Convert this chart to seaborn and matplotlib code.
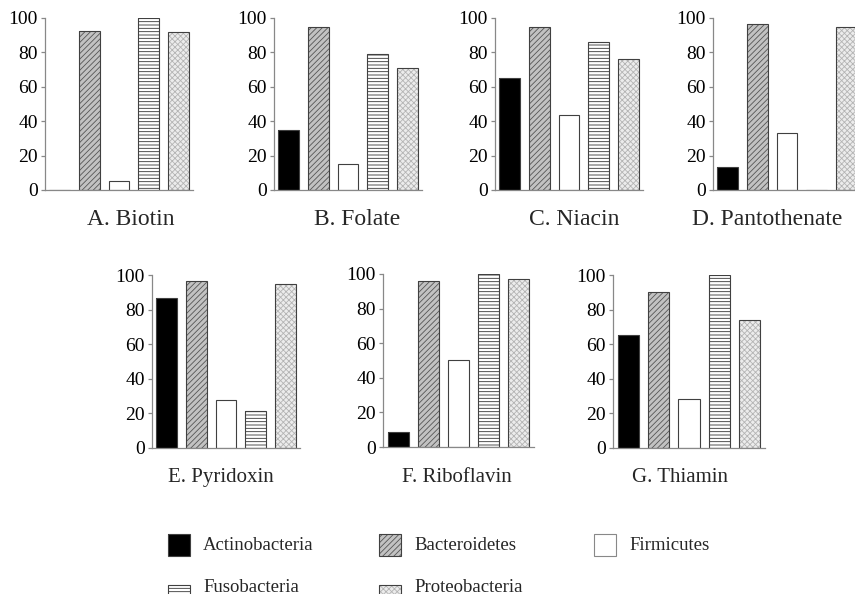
import numpy as np
import pandas as pd
import matplotlib
matplotlib.use("Agg")
import matplotlib.pyplot as plt
from matplotlib.patches import Rectangle
import seaborn as sns

# ---------------- data ----------------
phyla = ["Actinobacteria", "Bacteroidetes", "Firmicutes", "Fusobacteria", "Proteobacteria"]
panel_titles = ["A. Biotin", "B. Folate", "C. Niacin", "D. Pantothenate",
                "E. Pyridoxin", "F. Riboflavin", "G. Thiamin"]
biotin = [0.0, 92.7, 5.4, 100.0, 92.1]
folate = [34.9, 94.6, 15.3, 79.0, 71.0]
niacin = [65.4, 94.6, 43.6, 85.9, 76.4]
pantothenate = [13.1, 96.3, 32.9, 0.0, 94.6]
pyridoxin = [86.7, 96.3, 27.6, 21.4, 95.0]
riboflavin = [8.7, 96.2, 50.2, 100.0, 97.1]
thiamin = [65.3, 90.0, 28.5, 100.0, 73.8]
series = [biotin, folate, niacin, pantothenate, pyridoxin, riboflavin, thiamin]
yticks = [0, 20, 40, 60, 80, 100]

# ---------------- styles ----------------
face = {"Actinobacteria": "#000000", "Bacteroidetes": "#c2c2c2", "Firmicutes": "#ffffff",
        "Fusobacteria": "#ffffff", "Proteobacteria": "#ececec"}
hatch = {"Actinobacteria": "", "Bacteroidetes": "//////", "Firmicutes": "",
         "Fusobacteria": "-----", "Proteobacteria": "xxxxxx"}
hcol = {"Actinobacteria": "#000000", "Bacteroidetes": "#555555", "Firmicutes": "#ffffff",
        "Fusobacteria": "#333333", "Proteobacteria": "#b4b4b4"}
outline = "#404040"

sns.set_style("white")
plt.rcParams["font.family"] = ["Liberation Serif", "DejaVu Serif"]
plt.rcParams["hatch.linewidth"] = 0.6

W, H = 855, 594
fig = plt.figure(figsize=(W / 100, H / 100), dpi=100)

# axes rectangles in pixels: left, top, width, height
rects = [(45, 18, 148, 172), (274, 18, 148, 172), (495, 18, 148, 172), (713, 18, 148, 172),
         (152, 275, 148, 173), (383, 274, 151, 173), (613, 275, 152, 173)]
label_pos = [(131, 225), (357, 225), (574, 225), (767, 225),
             (221, 482), (457, 482), (680, 482)]
label_size = [17, 17, 17, 17, 15, 15, 15]

for (l, t, w, h), vals, title, (lx, ly), fs in zip(rects, series, panel_titles, label_pos, label_size):
    ax = fig.add_axes([l / W, 1 - (t + h) / H, w / W, h / H])
    df = pd.DataFrame({"phylum": phyla, "value": vals})
    sns.barplot(data=df, x="phylum", y="value", hue="phylum", order=phyla,
                hue_order=phyla, palette=face, width=0.7, saturation=1,
                linewidth=0, legend=False, ax=ax)
    for p in ax.patches:
        idx = int(round(p.get_x() + p.get_width() / 2))
        name = phyla[idx]
        p.set_edgecolor(hcol[name])
        p.set_hatch(hatch[name])
        p.set_linewidth(0)
    sns.barplot(data=df, x="phylum", y="value", order=phyla, color=outline,
                fill=False, width=0.7, linewidth=0.8, ax=ax)
    ax.set_xlim(-0.5, 4.5)
    ax.set_ylim(0, 100)
    ax.set_yticks(yticks)
    ax.set_yticklabels([str(v) for v in yticks], fontsize=14)
    ax.set_xticks([])
    ax.set_xlabel("")
    ax.set_ylabel("")
    for s in ["top", "right"]:
        ax.spines[s].set_visible(False)
    for s in ["left", "bottom"]:
        ax.spines[s].set_color("#888888")
        ax.spines[s].set_linewidth(0.9)
    ax.tick_params(axis="y", direction="out", length=3, width=0.9, color="#888888",
                   pad=2, left=True, labelcolor="#000000")
    fig.text(lx / W, 1 - ly / H, title, ha="center", va="baseline", fontsize=fs)

# ---------------- legend ----------------
leg_pos = {"Actinobacteria": (168, 534), "Bacteroidetes": (379, 534), "Firmicutes": (594, 534),
           "Fusobacteria": (168, 585), "Proteobacteria": (379, 585)}
text_y = {"Actinobacteria": 545, "Bacteroidetes": 545, "Firmicutes": 545,
          "Fusobacteria": 587, "Proteobacteria": 587}
for name in phyla:
    x, y = leg_pos[name]
    r = Rectangle((x / W, 1 - (y + 22) / H), 22 / W, 22 / H, transform=fig.transFigure,
                  facecolor=face[name], edgecolor=hcol[name], hatch=hatch[name], linewidth=0)
    fig.add_artist(r)
    r2 = Rectangle((x / W, 1 - (y + 22) / H), 22 / W, 22 / H, transform=fig.transFigure,
                   facecolor="none", edgecolor=outline if name != "Firmicutes" else "#888888",
                   linewidth=0.8)
    fig.add_artist(r2)
    fig.text((x + 35) / W, 1 - text_y[name] / H, name, ha="left", va="center", fontsize=13.5)

fig.savefig("out.png", dpi=100)
